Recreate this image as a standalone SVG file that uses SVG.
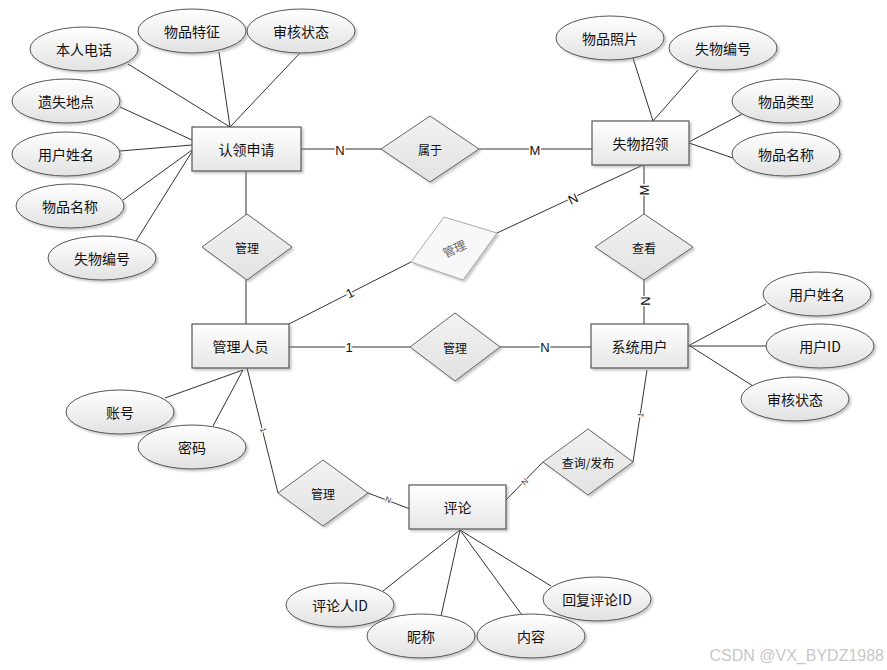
<svg xmlns="http://www.w3.org/2000/svg" width="887" height="670" viewBox="0 0 887 670">
<defs>
<linearGradient id="gE" x1="0" y1="0" x2="0" y2="1"><stop offset="0" stop-color="#ffffff"/><stop offset="1" stop-color="#e2e2e2"/></linearGradient>
<linearGradient id="gR" x1="0" y1="0" x2="0" y2="1"><stop offset="0" stop-color="#ffffff"/><stop offset="1" stop-color="#e6e6e6"/></linearGradient>
<linearGradient id="gD" x1="0" y1="0" x2="0" y2="1"><stop offset="0" stop-color="#f2f2f2"/><stop offset="1" stop-color="#e2e2e2"/></linearGradient>
<filter id="sh" x="-20%" y="-20%" width="150%" height="150%"><feDropShadow dx="2" dy="2" stdDeviation="1.2" flood-color="#888" flood-opacity="0.45"/></filter>
</defs>
<style>
.e{fill:url(#gE);stroke:#555;stroke-width:1;filter:url(#sh)}
.r{fill:url(#gR);stroke:#555;stroke-width:1.2;filter:url(#sh)}
.d{fill:url(#gD);stroke:#666;stroke-width:1;filter:url(#sh)}
.dg{fill:#f8f8f8;stroke:#aaa;stroke-width:1;filter:url(#sh)}
.t{font-family:"Noto Sans CJK SC","Liberation Sans",sans-serif;font-size:14px;fill:#111;text-anchor:middle;dominant-baseline:central}
.ts{font-family:"Noto Sans CJK SC","Liberation Sans",sans-serif;font-size:12px;fill:#111;text-anchor:middle;dominant-baseline:central}
.l{font-family:"Liberation Sans",sans-serif;font-size:13px;fill:#111;text-anchor:middle;dominant-baseline:central;stroke:#fff;stroke-width:3px;paint-order:stroke}
.lt{font-family:"Liberation Sans",sans-serif;font-size:8px;fill:#333;text-anchor:middle;dominant-baseline:central;stroke:#fff;stroke-width:2px;paint-order:stroke}
#connectors line{stroke:#333;stroke-width:1}
</style>
<rect width="887" height="670" fill="#fff"/>
<g id="connectors">
<line x1="128" y1="64" x2="230" y2="127"/>
<line x1="219" y1="52" x2="230" y2="127"/>
<line x1="300" y1="53" x2="230" y2="127"/>
<line x1="120" y1="107" x2="192" y2="140"/>
<line x1="120" y1="151" x2="192" y2="145"/>
<line x1="123" y1="200" x2="192" y2="150"/>
<line x1="136" y1="241" x2="193" y2="150"/>
<line x1="301" y1="149" x2="381" y2="149"/>
<line x1="479" y1="149" x2="592" y2="149"/>
<line x1="246" y1="171" x2="246" y2="215"/>
<line x1="246" y1="280" x2="246" y2="324"/>
<line x1="633" y1="58" x2="653" y2="121"/>
<line x1="698" y1="70" x2="653" y2="121"/>
<line x1="742" y1="114" x2="689" y2="142"/>
<line x1="733" y1="158" x2="689" y2="143"/>
<line x1="644" y1="165" x2="644" y2="215"/>
<line x1="644" y1="280" x2="644" y2="324"/>
<line x1="497" y1="233" x2="643" y2="165"/>
<line x1="289" y1="324" x2="411" y2="262"/>
<line x1="289" y1="347" x2="410" y2="347"/>
<line x1="500" y1="347" x2="591" y2="347"/>
<line x1="688" y1="346" x2="766" y2="304"/>
<line x1="688" y1="346" x2="766" y2="346"/>
<line x1="690" y1="346" x2="753" y2="386"/>
<line x1="165" y1="398" x2="243" y2="370"/>
<line x1="213" y1="426" x2="243" y2="370"/>
<line x1="247" y1="368" x2="278" y2="493"/>
<line x1="368" y1="493" x2="410" y2="509"/>
<line x1="647" y1="370" x2="633" y2="462"/>
<line x1="543" y1="462" x2="506" y2="500"/>
<line x1="383" y1="591" x2="460" y2="530"/>
<line x1="441" y1="616" x2="460" y2="530"/>
<line x1="522" y1="615" x2="460" y2="530"/>
<line x1="551" y1="586" x2="460" y2="530"/>
<text class="l" x="340" y="150">N</text>
<text class="l" x="535" y="150">M</text>
<text class="l" transform="translate(644,190) rotate(-90)">M</text>
<text class="l" transform="translate(645,301) rotate(-90)">N</text>
<text class="l" transform="translate(573,199) rotate(-25)">N</text>
<text class="l" transform="translate(350,293) rotate(-27)">1</text>
<text class="l" x="349" y="347">1</text>
<text class="l" x="545" y="347">N</text>
<text class="lt" transform="translate(263,430) rotate(76)">1</text>
<text class="lt" transform="translate(388,500) rotate(21)">N</text>
<text class="lt" transform="translate(641,415) rotate(-81)">1</text>
<text class="lt" transform="translate(525,482) rotate(-45)">N</text>
</g>
<g id="e_brdh"><ellipse class="e" cx="84" cy="49" rx="54" ry="22"/><text class="t" x="84" y="49">本人电话</text></g>
<g id="e_wptz"><ellipse class="e" cx="192" cy="31" rx="54" ry="22"/><text class="t" x="192" y="31">物品特征</text></g>
<g id="e_shzt1"><ellipse class="e" cx="301" cy="31" rx="54" ry="22"/><text class="t" x="301" y="31">审核状态</text></g>
<g id="e_ysdd"><ellipse class="e" cx="66" cy="101" rx="54" ry="22"/><text class="t" x="66" y="101">遗失地点</text></g>
<g id="e_yhxm1"><ellipse class="e" cx="66" cy="154" rx="54" ry="22"/><text class="t" x="66" y="154">用户姓名</text></g>
<g id="e_wpmc1"><ellipse class="e" cx="70" cy="206" rx="54" ry="22"/><text class="t" x="70" y="206">物品名称</text></g>
<g id="e_swbh1"><ellipse class="e" cx="102" cy="258" rx="54" ry="22"/><text class="t" x="102" y="258">失物编号</text></g>
<g id="e_wpzp"><ellipse class="e" cx="610" cy="38" rx="54" ry="22"/><text class="t" x="610" y="38">物品照片</text></g>
<g id="e_swbh2"><ellipse class="e" cx="723" cy="48" rx="54" ry="22"/><text class="t" x="723" y="48">失物编号</text></g>
<g id="e_wplx"><ellipse class="e" cx="786" cy="101" rx="54" ry="22"/><text class="t" x="786" y="101">物品类型</text></g>
<g id="e_wpmc2"><ellipse class="e" cx="786" cy="154" rx="54" ry="22"/><text class="t" x="786" y="154">物品名称</text></g>
<g id="e_yhxm2"><ellipse class="e" cx="817" cy="294" rx="54" ry="22"/><text class="t" x="817" y="294">用户姓名</text></g>
<g id="e_yhid"><ellipse class="e" cx="820" cy="346" rx="54" ry="22"/><text class="t" x="820" y="346">用户ID</text></g>
<g id="e_shzt2"><ellipse class="e" cx="795" cy="399" rx="54" ry="22"/><text class="t" x="795" y="399">审核状态</text></g>
<g id="e_zh"><ellipse class="e" cx="120" cy="412" rx="54" ry="22"/><text class="t" x="120" y="412">账号</text></g>
<g id="e_mm"><ellipse class="e" cx="192" cy="447" rx="54" ry="22"/><text class="t" x="192" y="447">密码</text></g>
<g id="e_plrid"><ellipse class="e" cx="340" cy="605" rx="54" ry="22"/><text class="t" x="340" y="605">评论人ID</text></g>
<g id="e_nc"><ellipse class="e" cx="421" cy="636" rx="54" ry="22"/><text class="t" x="421" y="636">昵称</text></g>
<g id="e_nr"><ellipse class="e" cx="531" cy="636" rx="54" ry="22"/><text class="t" x="531" y="636">内容</text></g>
<g id="e_hfplid"><ellipse class="e" cx="597" cy="599" rx="54" ry="22"/><text class="t" x="597" y="599">回复评论ID</text></g>
<g id="n_rlsq"><rect class="r" x="192" y="127" width="109" height="44"/><text class="t" x="246.5" y="149">认领申请</text></g>
<g id="n_swzl"><rect class="r" x="592" y="121" width="97" height="44"/><text class="t" x="640.5" y="143">失物招领</text></g>
<g id="n_glry"><rect class="r" x="192" y="324" width="97" height="44"/><text class="t" x="240.5" y="346">管理人员</text></g>
<g id="n_xtyh"><rect class="r" x="591" y="324" width="97" height="44"/><text class="t" x="639.5" y="346">系统用户</text></g>
<g id="n_pl"><rect class="r" x="409" y="485" width="97" height="44"/><text class="t" x="457.5" y="507">评论</text></g>
<g id="d_sy"><polygon class="d" points="381,149 430,116 479,149 430,182"/><text class="ts" x="430" y="149">属于</text></g>
<g id="d_gl1"><polygon class="d" points="202,247 247,214 292,247 247,280"/><text class="ts" x="247" y="247">管理</text></g>
<g id="d_ck"><polygon class="d" points="595,247 644,214 693,247 644,280"/><text class="ts" x="644" y="247">查看</text></g>
<g id="d_gl2"><polygon class="dg" points="444,217 497,233 463,280 411,262"/><text class="ts" style="fill:#666" transform="translate(454,248) rotate(-25)">管理</text></g>
<g id="d_gl3"><polygon class="d" points="410,347 455,313 500,347 455,381"/><text class="ts" x="455" y="347">管理</text></g>
<g id="d_gl4"><polygon class="d" points="278,493 323,460 368,493 323,526"/><text class="ts" x="323" y="493">管理</text></g>
<g id="d_cxfb"><polygon class="d" points="543,462 588,429 633,462 588,495"/><text class="ts" x="588" y="462">查询/发布</text></g>
<text x="884" y="655" style="font-family:'Liberation Sans',sans-serif;font-size:16px;fill:#c8c8c8;text-anchor:end;dominant-baseline:central">CSDN @VX_BYDZ1988</text>
</svg>
